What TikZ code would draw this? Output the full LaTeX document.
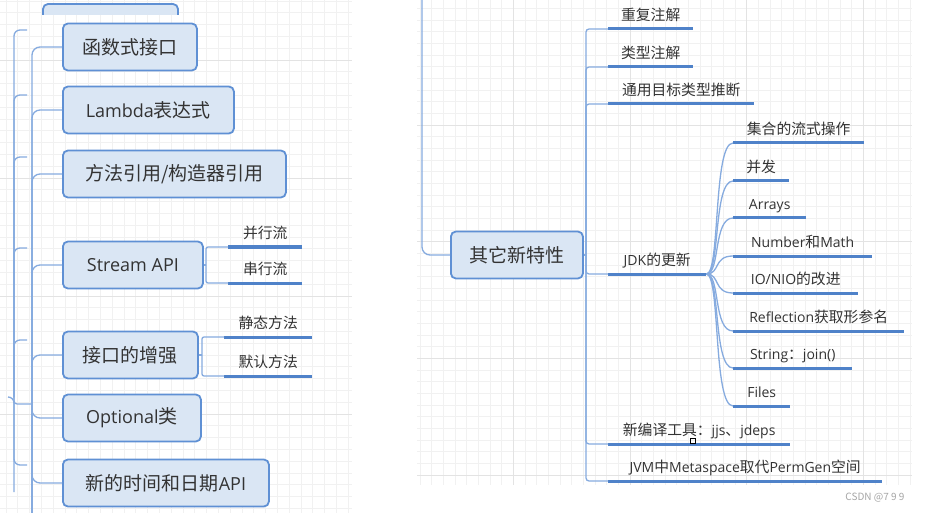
\documentclass[tikz,border=0pt]{standalone}
\usepackage{fontspec}
\setmainfont{Noto Sans CJK SC}
\newfontfamily\latf{Open Sans}
\definecolor{boxfill}{HTML}{DAE6F4}
\definecolor{boxline}{HTML}{5F90D4}
\definecolor{linkline}{HTML}{86ABDF}
\definecolor{uline}{HTML}{4F82C9}
\definecolor{txt}{HTML}{333333}
\definecolor{gridminor}{HTML}{F1F1F1}
\definecolor{gridmajor}{HTML}{E3E3E3}

\begin{document}
\begin{tikzpicture}[x=1pt,y=-1pt,
    link/.style={draw=linkline,line width=1.3pt,rounded corners=6pt},
    underline/.style={draw=uline,line width=3pt}]

        \useasboundingbox (0,0) rectangle (937,513);
        \fill[white] (0,0) rectangle (937,513);

        \begin{scope}[line width=0.8pt]
          \foreach \i in {0,...,29}
            \draw[gridminor] (6+\i*11.8,0) -- (6+\i*11.8,513);
          \foreach \j in {0,...,43}
            \draw[gridminor] (0,1+\j*11.8) -- (352,1+\j*11.8);
          \foreach \y in {60,178,296,414}
            \draw[gridmajor] (0,\y) -- (352,\y);
          \foreach \i in {0,...,42}
            \draw[gridminor] (420+\i*11.67,0) -- (420+\i*11.67,485);
          \foreach \j in {0,...,40}
            \draw[gridminor] (417,8.3+\j*11.67) -- (912,8.3+\j*11.67);
          \foreach \x in {513.3,630,746.7,863.3}
            \draw[gridmajor] (\x,0) -- (\x,485);
          \foreach \y in {125,241.7,358.3,475}
            \draw[gridmajor] (417,\y) -- (912,\y);
        \end{scope}

        \begin{scope}
          \clip (0,0) rectangle (340,15);
          \draw[draw=boxline,fill=boxfill,line width=1.8pt,rounded corners=5pt] (43,4) rectangle (178,50);
        \end{scope}

        \begin{scope}[every node/.style={draw=boxline,fill=boxfill,line width=1.8pt,rounded corners=5pt,
            anchor=west,minimum height=47pt,text=txt,font=\fontsize{19}{23}\selectfont}]
          \node[minimum width=134] (fn)  at (62,47)  {函数式接口};
          \node[minimum width=171] (lam) at (62,110) {{\latf\fontsize{18}{23}\selectfont Lambda}表达式};
          \node[minimum width=223] (ref) at (62,174) {方法引用/构造器引用};
          \node[minimum width=140] (str) at (62,265) {{\latf\fontsize{18}{23}\selectfont Stream API}};
          \node[minimum width=135] (itf) at (62,355) {接口的增强};
          \node[minimum width=138] (opt) at (62,418) {{\latf\fontsize{18}{23}\selectfont Optional}类};
          \node[minimum width=206] (dt)  at (62,483) {新的时间和日期{\latf\fontsize{18}{23}\selectfont API}};
          \node[minimum width=132] (oth) at (450,255) {其它新特性};
        \end{scope}

        \begin{scope}[every node/.style={anchor=south west,text=txt,font=\fontsize{14.8}{17}\selectfont,
            text height=11pt,text depth=4pt,inner ysep=4pt,inner xsep=0pt}]
          \node[minimum width=74]  (par) at (228,247) {并行流};
          \node[minimum width=74]  (ser) at (228,283) {串行流};
          \node[minimum width=88]  (sta) at (224,337) {静态方法};
          \node[minimum width=88]  (dfl) at (224,376) {默认方法};

          \node[minimum width=85]  (rep) at (608,29)  {重复注解};
          \node[minimum width=85]  (typ) at (608,67)  {类型注解};
          \node[minimum width=146] (inf) at (608,104) {通用目标类型推断};
          \node[minimum width=98]  (jdk) at (608,274) {{\latf\fontsize{14}{17}\selectfont JDK}的更新};
          \node[minimum width=182] (jjs) at (608,444) {新编译工具：{\latf\fontsize{14}{17}\selectfont jjs}、{\latf\fontsize{14}{17}\selectfont jdeps}};
          \node[minimum width=274] (jvm) at (608,481) {{\latf\fontsize{14}{17}\selectfont JVM}中{\latf\fontsize{14}{17}\selectfont Metaspace}取代{\latf\fontsize{14}{17}\selectfont PermGen}空间};

          \node[minimum width=131] (col) at (733,143) {集合的流式操作};
          \node[minimum width=56]  (con) at (733,181) {并发};
          \node[minimum width=73]  (arr) at (733,218) {{\latf\fontsize{14}{17}\selectfont Arrays}};
          \node[minimum width=139] (num) at (733,256) {{\latf\fontsize{14}{17}\selectfont Number}和{\latf\fontsize{14}{17}\selectfont Math}};
          \node[minimum width=125] (nio) at (733,293) {{\latf\fontsize{14}{17}\selectfont IO/NIO}的改进};
          \node[minimum width=171] (rfl) at (733,331) {{\latf\fontsize{14}{17}\selectfont Reflection}获取形参名};
          \node[minimum width=119] (sj)  at (733,368) {{\latf\fontsize{14}{17}\selectfont String}：{\latf\fontsize{14}{17}\selectfont join()}};
          \node[minimum width=57]  (fil) at (733,406) {{\latf\fontsize{14}{17}\selectfont Files}};
        \end{scope}

        \foreach \n in {par,ser,sta,dfl,rep,typ,inf,jdk,jjs,jvm,col,con,arr,num,nio,rfl,sj,fil}
          \path[underline] (\n.south west) -- (\n.south east);

        \coordinate (oroot) at (14,397);
        \coordinate (otick) at (8,397);
        \coordinate (obot)  at (14,492);
        \coordinate (iroot) at (32,404);
        \coordinate (ibot)  at (32,513);
        \foreach \y [count=\k] in {30,95,157,248,340,465}
          \coordinate (o\k) at (27,\y);

        \path[link] (otick) -- (oroot) -- (obot);
        \foreach \k in {1,...,6}
          \path[link] (oroot) |- (o\k);
        \path[link,rounded corners=3pt] (oroot) |- (iroot);
        \path[link] (iroot) -- (ibot);
        \foreach \n in {fn,lam,ref,str,itf,opt,dt}
          \path[link,rounded corners=8pt] (iroot) |- (\n.west);

        \coordinate (shub) at (206,265);
        \path[link,rounded corners=2pt] (str.east) -- (shub);
        \foreach \n in {par,ser}
          \path[link,rounded corners=2pt] (shub) |- (\n.south west);

        \coordinate (ihub) at (202,355);
        \path[link,rounded corners=2pt] (itf.east) -- (ihub);
        \foreach \n in {sta,dfl}
          \path[link,rounded corners=2pt] (ihub) |- (\n.south west);

        \coordinate (rtop) at (422,0);
        \path[link,rounded corners=8pt] (rtop) |- (oth.west);

        \coordinate (rhub) at (586,255);
        \path[link,rounded corners=2pt] (oth.east) -- (rhub);
        \foreach \n in {rep,typ,inf,jdk,jjs,jvm}
          \path[link,rounded corners=3pt] (rhub) |- (\n.south west);

        \foreach \n in {col,con,arr,num,nio,rfl,sj,fil}
          \path[link] (jdk.south east) .. controls +(14,0) and +(-20,0) .. (\n.south west);

        \draw[line width=0.6pt] (690,438) rectangle (695,443);
        \node[anchor=east,text=gray!70,font=\fontsize{10}{11}\selectfont] (mark) at (908,498) {CSDN @7 9 9};

\end{tikzpicture}
\end{document}
